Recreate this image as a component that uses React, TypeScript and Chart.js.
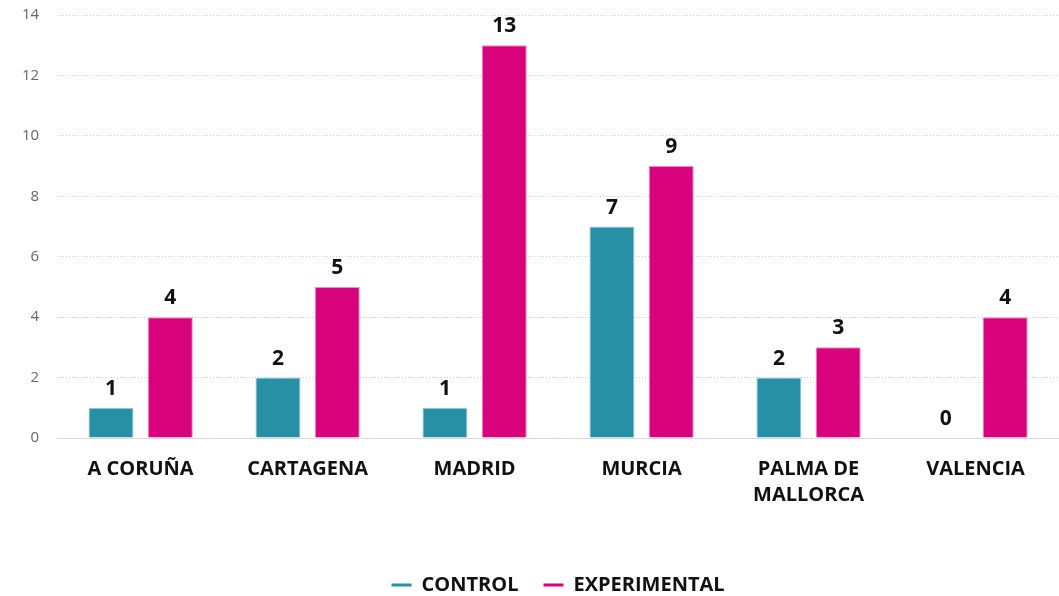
import React, { useEffect, useRef } from "react";
import { Chart, registerables } from "chart.js";

Chart.register(...registerables);

const categories: (string | string[])[] = ["A CORUÑA", "CARTAGENA", "MADRID", "MURCIA", ["PALMA DE", "MALLORCA"], "VALENCIA"];
const controlValues = [1, 2, 1, 7, 2, 0];
const experimentalValues = [4, 5, 13, 9, 3, 4];
const seriesNames = ["CONTROL", "EXPERIMENTAL"];
const seriesColors = ["#2790A5", "#D9027D"];
const seriesBorders = ["#9fd0dc", "#f08cc4"];
const yTicks = [0, 2, 4, 6, 8, 10, 12, 14];

const FONT = "'Open Sans', sans-serif";

const valueLabels = {
  id: "valueLabels",
  afterDatasetsDraw(chart: any) {
    const ctx = chart.ctx;
    ctx.save();
    ctx.font = `bold 21px ${FONT}`;
    ctx.fillStyle = "#111";
    ctx.textAlign = "center";
    ctx.textBaseline = "alphabetic";
    chart.data.datasets.forEach((ds: any, i: number) => {
      const meta = chart.getDatasetMeta(i);
      if (meta.hidden) return;
      meta.data.forEach((bar: any, j: number) => {
        ctx.fillText(String(ds.data[j]), bar.x, bar.y - 13);
      });
    });
    ctx.restore();
  },
};

export default function App() {
  const ref = useRef<HTMLCanvasElement>(null);
  useEffect(() => {
    const chart = new Chart(ref.current!, {
      type: "bar",
      data: {
        labels: categories,
        datasets: seriesNames.map((name, i) => ({
          label: name,
          data: i === 0 ? controlValues : experimentalValues,
          backgroundColor: seriesColors[i],
          borderColor: seriesBorders[i],
          borderWidth: 1,
          categoryPercentage: 0.71,
          barPercentage: 0.76,
        })),
      },
      options: {
        animation: false,
        responsive: true,
        maintainAspectRatio: false,
        layout: { padding: { top: 15, right: 0, left: 4, bottom: -9 } },
        plugins: {
          tooltip: { enabled: false },
          legend: {
            position: "bottom",
            fullSize: false,
            labels: {
              usePointStyle: true,
              pointStyle: "line",
              pointStyleWidth: 20,
              boxHeight: 20,
              color: "#111",
              padding: 25,
              font: { family: FONT, size: 20, weight: "bold" },
              generateLabels: (chart: any) =>
                chart.data.datasets.map((ds: any, i: number) => ({
                  text: ds.label,
                  fillStyle: seriesColors[i],
                  strokeStyle: seriesColors[i],
                  lineWidth: 3,
                  pointStyle: "line",
                  hidden: false,
                  datasetIndex: i,
                  fontColor: "#111",
                })),
            },
          },
        },
        scales: {
          x: {
            grid: { display: false, drawTicks: false },
            border: { display: true, color: "#d9d9d9", width: 1 },
            ticks: {
              color: "#111",
              padding: 18,
              maxRotation: 0,
              font: { family: FONT, size: 20, weight: "bold", lineHeight: 1.3 },
            },
            afterFit: (scale: any) => {
              scale.height = 112;
              scale.paddingLeft = 0;
              scale.paddingRight = 0;
            },
          },
          y: {
            min: 0,
            max: 14,
            afterBuildTicks: (scale: any) => {
              scale.ticks = yTicks.map((v) => ({ value: v }));
            },
            afterFit: (scale: any) => {
              scale.paddingTop = 0;
              scale.paddingBottom = 0;
            },
            grid: {
              color: "#cccccc",
              drawTicks: false,
            },
            border: { display: false, dash: [1, 2] },
            ticks: {
              color: "#666",
              padding: 18,
              font: { family: FONT, size: 15 },
            },
          },
        },
      },
      plugins: [valueLabels],
    });
    return () => chart.destroy();
  }, []);
  return (
    <div style={{ position: "fixed", left: 0, top: 0, width: 1059, height: 596 }}>
      <canvas ref={ref} />
    </div>
  );
}
